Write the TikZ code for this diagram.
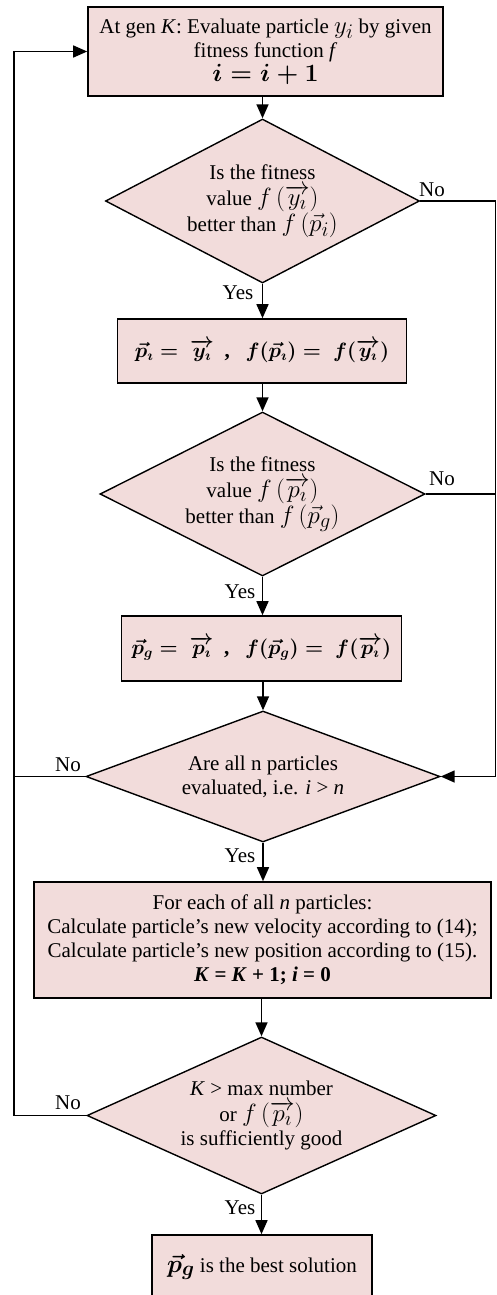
\documentclass[tikz,border=0pt]{standalone}
\usepackage{amsmath}
\usepackage{fontspec}
\setmainfont{Liberation Serif}
\usetikzlibrary{arrows.meta,shapes.geometric}
\definecolor{boxfill}{RGB}{242,220,219}
\newcommand{\mth}[1]{{\fontsize{24.88}{24}\selectfont$#1$}}
\begin{document}
\begin{tikzpicture}[x=1pt,y=-1pt,
  every node/.style={font=\fontsize{21}{24}\selectfont},
  pbox/.style={draw, fill=boxfill, line width=1.6pt, align=center, inner sep=0pt},
  dec/.style={draw, fill=boxfill, shape=diamond, aspect=2.2, inner sep=0pt, align=center, line width=1.4pt},
  conn/.style={line width=1.5pt},
  arr/.style={conn, -{Triangle[length=14pt,width=12pt]}},
  lbl/.style={inner sep=0pt}]
\useasboundingbox (0,0) rectangle (497,1295);
\coordinate (L) at (14,0);
\coordinate (R) at (495.5,0);

\node[pbox, minimum width=355pt, minimum height=89pt] (b1) at (265.5,51.5)
  {At gen \textit{K}: Evaluate particle \mth{y_i} by given\\ fitness function \textit{f}\\ \mth{\boldsymbol{i=i+1}}};

\node[dec, minimum width=314pt, minimum height=164pt] (d1) at (262.5,201)
  {Is the fitness\\[2pt] value \mth{f\,(\overrightarrow{y_\imath})}\\ better than \mth{f\,(\vec{p}_i)}};

\node[pbox, minimum width=289pt, minimum height=64pt] (b2) at (262,351)
  {$\boldsymbol{\vec{p}_\imath =\ \overrightarrow{y_\imath}}$\ \ \textbf{,}\ \ \ $\boldsymbol{f(\vec{p}_\imath) =\ f(\overrightarrow{y_\imath})}$};

\node[dec, minimum width=325pt, minimum height=164pt] (d2) at (262.5,494)
  {Is the fitness\\[2pt] value \mth{f\,(\overrightarrow{p_\imath})}\\ better than \mth{f\,(\vec{p}_g)}};

\node[pbox, minimum width=280pt, minimum height=65pt] (b3) at (261.5,648.5)
  {$\boldsymbol{\vec{p}_g =\ \overrightarrow{p_\imath}}$\ \ \textbf{,}\ \ \ $\boldsymbol{f(\vec{p}_g) =\ f(\overrightarrow{p_\imath})}$};

\node[dec, minimum width=354pt, minimum height=131pt] (d3) at (263,776.5)
  {Are all n particles\\ evaluated, i.e. \textit{i} > \textit{n}};

\node[pbox, minimum width=457pt, minimum height=116pt] (b4) at (262.5,940)
  {For each of all \textit{n} particles:\\ Calculate particle’s new velocity according to (14);\\ Calculate particle’s new position according to (15).\\ \textbf{\textit{K} = \textit{K} + 1; \textit{i} = 0}};

\node[dec, minimum width=349pt, minimum height=157pt] (d4) at (261.5,1115.5)
  {\textit{K} > max number\\[2pt] or \mth{f\,(\overrightarrow{p_\imath})}\\ is sufficiently good};

\node[pbox, minimum width=220pt, minimum height=64pt] (b5) at (262,1267)
  {\raisebox{4pt}{\mth{\boldsymbol{\vec{p}_g}} is the best solution}};

% labels
\node[lbl] (no1) at (432,190) {No};
\node[lbl] (yes1) at (238,293) {Yes};
\node[lbl] (no2) at (442,479) {No};
\node[lbl] (yes2) at (240,592) {Yes};
\node[lbl] (no3) at (68,765) {No};
\node[lbl] (yes3) at (240,856) {Yes};
\node[lbl] (no4) at (68,1103) {No};
\node[lbl] (yes4) at (240,1208) {Yes};

% main flow
\draw[arr] (b1.south -| d1.north) -- (d1.north);
\draw[arr] (d1.south) -- (d1.south |- b2.north);
\draw[arr] (b2.south -| d2.north) -- (d2.north);
\draw[arr] (d2.south) -- (d2.south |- b3.north);
\draw[arr] (b3.south -| d3.north) -- (d3.north);
\draw[arr] (d3.south) -- (d3.south |- b4.north);
\draw[arr] (b4.south -| d4.north) -- (d4.north);
\draw[arr] (d4.south) -- (d4.south |- b5.north);

% side loops
\draw[arr] (d1.east) -- (d1.east -| R) -- (d3.east -| R) -- (d3.east);
\draw[conn] (d2.east) -- (d2.east -| R);
\draw[conn] (d3.west) -- (d3.west -| L);
\draw[arr] (d4.west) -- (d4.west -| L) -- (b1.west -| L) -- (b1.west);
\end{tikzpicture}
\end{document}
